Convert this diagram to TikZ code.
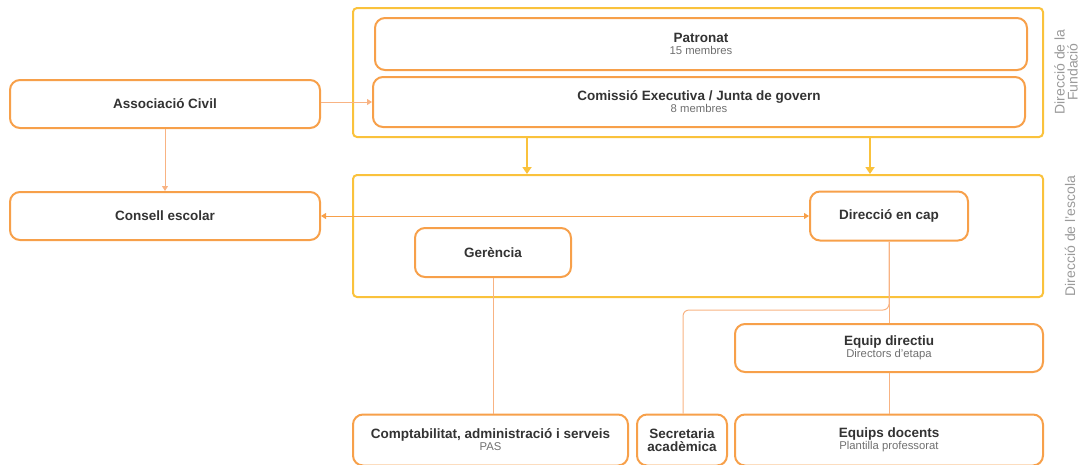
\documentclass[tikz,border=0pt]{standalone}
\usepackage{fontspec}
\setmainfont{Liberation Sans}
\usetikzlibrary{arrows.meta}
\definecolor{obord}{HTML}{F7A04A}
\definecolor{yel}{HTML}{FAC23C}
\definecolor{lin}{HTML}{F8B383}
\definecolor{txt}{HTML}{333333}
\definecolor{sub}{HTML}{707070}
\definecolor{side}{HTML}{9A9A9A}
\tikzset{
  ob/.style={draw=obord, line width=2pt, rounded corners=10pt, fill=white, align=center, inner sep=2pt, text=txt, font=\bfseries\fontsize{13.5}{15}\selectfont},
  grp/.style={draw=yel, line width=2pt, rounded corners=4pt},
  conn/.style={draw=lin, line width=1pt},
  arr/.style={conn, -{Triangle[width=6pt,length=5pt]}},
  darr/.style={conn, {Triangle[width=6pt,length=5pt]}-{Triangle[width=6pt,length=5pt]}, draw=obord},
  yarr/.style={draw=yel, line width=2.4pt, -{Triangle[width=9pt,length=7pt]}},
  sidelab/.style={rotate=90, text=side, align=center, font=\fontsize{14}{14}\selectfont}
}
\newcommand{\st}[1]{\\[-3pt]{\mdseries\fontsize{11.3}{12}\selectfont\color{sub}#1}}
\begin{document}
\begin{tikzpicture}[x=1pt,y=-1pt]
\useasboundingbox (0,0) rectangle (1084,464);
% groups
\node[grp, minimum width=690pt, minimum height=129pt] (fund) at (698,72.5) {};
\node[grp, minimum width=690pt, minimum height=122pt] (esc) at (698,236) {};
% boxes
\node[ob, minimum width=652pt, minimum height=52pt] (pat) at (701,44) {Patronat\st{15 membres}};
\node[ob, minimum width=652pt, minimum height=50pt] (com) at (699,102) {Comissió Executiva / Junta de govern\st{8 membres}};
\node[ob, minimum width=310pt, minimum height=48pt] (ac) at (165,104) {Associació Civil};
\node[ob, minimum width=310pt, minimum height=48pt] (ce) at (165,216) {Consell escolar};
\node[ob, minimum width=158pt, minimum height=49pt] (dc) at (889,216) {Direcció en cap};
\node[ob, minimum width=156pt, minimum height=49pt] (ger) at (493,252.5) {Gerència};
\node[ob, minimum width=308pt, minimum height=48pt] (ed) at (889,348) {Equip directiu\st{Directors d'etapa}};
\node[ob, minimum width=275pt, minimum height=51pt] (cas) at (490.5,440) {Comptabilitat, administració i serveis\st{PAS}};
\node[ob, minimum width=90pt, minimum height=51pt, inner sep=0pt] (sa) at (682,440) {Secretaria\\[-2pt]acadèmica};
\node[ob, minimum width=308pt, minimum height=51pt] (edoc) at (889,440) {Equips docents\st{Plantilla professorat}};
% side labels
\node[sidelab] (l1) at (1066,72) {Direcció de la\\[-1pt]Fundació};
\node[sidelab] (l2) at (1070,236) {Direcció de l'escola};
% connectors
\draw[arr] (ac.east |- com.west) -- (com.west);
\draw[arr] (ac.south) -- (ce.north);
\draw[darr] (ce.east) -- (dc.west);
\draw[yarr] (fund.south -| 527,0) -- (esc.north -| 527,0);
\draw[yarr] (fund.south -| 870,0) -- (esc.north -| 870,0);
\draw[conn] (ger.south) -- (cas.north -| ger.south);
\draw[conn] (dc.south) -- (ed.north);
\coordinate (br) at (889,310);
\draw[conn, rounded corners=6pt] (dc.south) -- (br) -- (683,310) -- (sa.north -| 683,0);
\draw[conn] (ed.south) -- (edoc.north);
\end{tikzpicture}
\end{document}
